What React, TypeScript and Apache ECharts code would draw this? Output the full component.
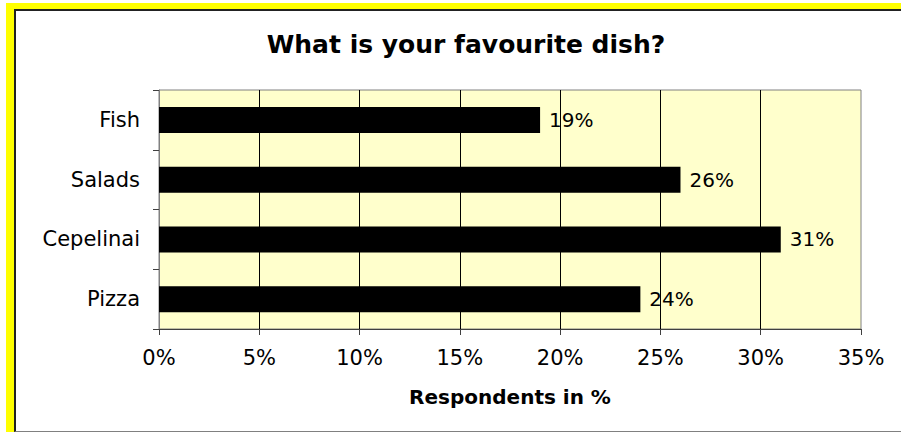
import React, { useEffect, useRef } from "react";
import * as echarts from "echarts";

const categories = ["Fish", "Salads", "Cepelinai", "Pizza"];
const values = [19, 26, 31, 24];
const titleText = "What is your favourite dish?";
const axisTitle = "Respondents in %";
const xMin = 0;
const xMax = 35;
const xStep = 5;

const FONT = "'DejaVu Sans', 'Liberation Sans', Arial, sans-serif";

export default function App() {
  const ref = useRef<HTMLDivElement>(null);

  useEffect(() => {
    if (!ref.current) return;
    const chart = echarts.init(ref.current, null, { renderer: "svg" });
    chart.setOption({
      animation: false,
      backgroundColor: "transparent",
      textStyle: { fontFamily: FONT },
      title: {
        text: titleText,
        left: 461,
        top: 27,
        textAlign: "center",
        textStyle: { fontFamily: FONT, fontWeight: "bold", fontSize: 25, color: "#000" },
      },
      grid: {
        left: 159,
        top: 90,
        width: 702,
        height: 239,
        show: true,
        backgroundColor: "#FFFFCC",
        borderColor: "#808080",
        borderWidth: 1,
        containLabel: false,
      },
      xAxis: {
        type: "value",
        min: xMin,
        max: xMax,
        interval: xStep,
        name: axisTitle,
        nameLocation: "middle",
        nameGap: 58,
        nameTextStyle: { fontFamily: FONT, fontWeight: "bold", fontSize: 20, color: "#000" },
        axisLine: { show: true, lineStyle: { color: "#404040", width: 1 } },
        axisTick: { show: true, length: 6, lineStyle: { color: "#404040" } },
        axisLabel: {
          formatter: "{value}%",
          fontFamily: FONT,
          fontSize: 21,
          color: "#000",
          margin: 18,
        },
        splitLine: {
          show: true,
          showMinLine: false,
          showMaxLine: false,
          lineStyle: { color: "#000", width: 1 },
        },
      },
      yAxis: {
        type: "category",
        data: categories,
        inverse: true,
        axisLine: { show: true, lineStyle: { color: "#808080", width: 1 } },
        axisTick: { show: true, length: 6, alignWithLabel: false, lineStyle: { color: "#404040" } },
        axisLabel: { fontFamily: FONT, fontSize: 21, color: "#000", margin: 19 },
        splitLine: { show: false },
      },
      series: [
        {
          type: "bar",
          data: values,
          barWidth: 26,
          itemStyle: { color: "#000" },
          label: {
            show: true,
            position: "right",
            distance: 9,
            formatter: "{c}%",
            fontFamily: FONT,
            fontSize: 20,
            color: "#000",
          },
        },
      ],
    });
    return () => chart.dispose();
  }, []);

  return (
    <div style={{ position: "absolute", left: 0, top: 0, width: 901, height: 432, background: "#fff", overflow: "hidden" }}>
      <div style={{ position: "absolute", left: 6, top: 3, right: 0, bottom: 0, background: "#FFFF00" }} />
      <div
        style={{
          position: "absolute",
          left: 14,
          top: 9,
          width: 900,
          height: 420,
          background: "#fff",
          borderTop: "2px solid #222",
          borderLeft: "2px solid #222",
          borderBottom: "1px solid #808080",
        }}
      />
      <div ref={ref} style={{ position: "absolute", left: 0, top: 0, width: 901, height: 432 }} />
    </div>
  );
}
